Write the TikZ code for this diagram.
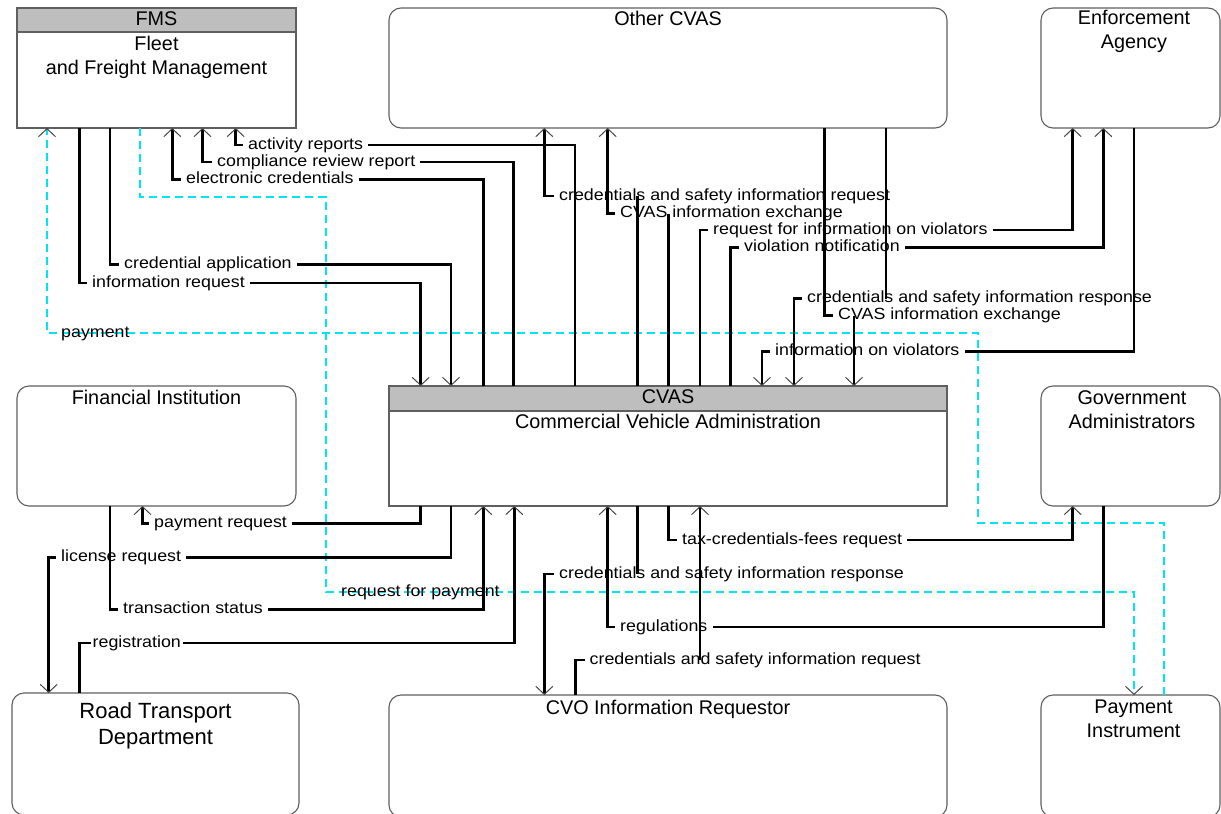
\documentclass[tikz,border=0pt]{standalone}
\usepackage{fontspec}
\setmainfont{Liberation Sans}
\newfontfamily\lblfam[FakeStretch=1.1]{Liberation Sans}
\usetikzlibrary{arrows.meta}
\definecolor{boxgray}{RGB}{95,95,95}
\definecolor{hdrgray}{RGB}{190,190,190}
\definecolor{tipgray}{RGB}{70,70,70}
\definecolor{paycyan}{RGB}{0,230,240}
\tikzset{
  rnd/.style={draw=boxgray, fill=white, line width=1.1pt, rounded corners=12pt, anchor=north west, inner sep=0pt, outer sep=0pt},
  sq/.style={draw=boxgray, fill=white, line width=1.3pt, anchor=north west, inner sep=0pt, outer sep=0pt},
  hdr/.style={draw=boxgray, fill=hdrgray, line width=1.3pt},
  ttl/.style={font=\fontsize{19.8}{24}\selectfont, inner sep=0pt, anchor=base},
  big/.style={font=\fontsize{22}{26}\selectfont, inner sep=0pt, anchor=base},
  lbl/.style={font=\lblfam\fontsize{16.2}{19}\selectfont, inner xsep=5pt, inner ysep=0pt, text height=8.4pt, text depth=0pt, anchor=west},
  flow/.style={line width=2.8pt, black},
  tip/.style={-{Straight Barb[length=8pt,width=17pt,line width=1pt,color=tipgray]}},
  pay/.style={color=paycyan, line width=1.6pt, dash pattern=on 8pt off 5pt}
}
\begin{document}
\begin{tikzpicture}[x=1pt,y=-1pt]
\useasboundingbox (0,0) rectangle (1221,814);
% boxes
\node[sq, minimum width=279pt, minimum height=120pt] (fms) at (17,8) {};
\draw[hdr] (fms.north west) rectangle ([yshift=-24pt]fms.north east);
\node[rnd, minimum width=558pt, minimum height=120pt] (ocvas) at (389,8) {};
\node[rnd, minimum width=179pt, minimum height=120pt] (enf) at (1041,8) {};
\node[rnd, minimum width=279pt, minimum height=120pt] (fin) at (17,386) {};
\node[sq, minimum width=558pt, minimum height=120pt] (cvas) at (389,386) {};
\draw[hdr] (cvas.north west) rectangle ([yshift=-25pt]cvas.north east);
\node[rnd, minimum width=179pt, minimum height=120pt] (gov) at (1041,386) {};
\node[rnd, minimum width=287pt, minimum height=122pt] (rtd) at (12,693) {};
\node[rnd, minimum width=558pt, minimum height=122pt] (cvo) at (389,695) {};
\node[rnd, minimum width=179pt, minimum height=122pt] (pin) at (1041,695) {};
% titles
\node[ttl] (t1) at (156.5,25) {FMS};
\node[ttl] (t2) at (156.5,50) {Fleet};
\node[ttl] (t3) at (156.5,74) {and Freight Management};
\node[ttl] (t4) at (668,25) {Other CVAS};
\node[ttl] (t5) at (1134,24) {Enforcement};
\node[ttl] (t6) at (1134,48) {Agency};
\node[ttl] (t7) at (156.5,404) {Financial Institution};
\node[ttl] (t8) at (668,403.5) {CVAS};
\node[ttl] (t9) at (668,428.3) {Commercial Vehicle Administration};
\node[ttl] (t10) at (1132,404) {Government};
\node[ttl] (t11) at (1132,428.3) {Administrators};
\node[big] (t12) at (155.5,718.3) {Road Transport};
\node[big] (t13) at (155.5,744.3) {Department};
\node[ttl] (t14) at (668,714) {CVO Information Requestor};
\node[ttl] (t15) at (1133.5,713.3) {Payment};
\node[ttl] (t16) at (1133.5,737.3) {Instrument};
% dashed payment flows
\coordinate (pa) at (978,523);
\coordinate (pb) at (47,333);
\draw[pay,tip] (pin.north -| 1164,0) |- (pa) |- (pb) -- (fms.south -| 47,0);
\coordinate (pc) at (326,196.7);
\coordinate (pd) at (1134,592);
\draw[pay,tip] (fms.south -| 140,0) |- (pc) |- (pd) -- (pin.north -| 1134,0);
\node[lbl, inner xsep=0pt] (lpay) at (61,333.5) {payment};
\node[lbl, inner xsep=0pt] (lrp) at (341,592) {request for payment};
% a
\node[lbl] (la) at (243,145) {activity reports};
\draw[flow,tip] (la.west) -| (fms.south -| 235.7,0);
\draw[flow] (cvas.north -| 575,0) |- (la.east);
% b
\node[lbl] (lb) at (212,162) {compliance review report};
\draw[flow,tip] (lb.west) -| (fms.south -| 202.5,0);
\draw[flow] (cvas.north -| 513.7,0) |- (lb.east);
% c
\node[lbl] (lc) at (181,179.5) {electronic credentials};
\draw[flow,tip] (lc.west) -| (fms.south -| 172.3,0);
\draw[flow] (cvas.north -| 483.3,0) |- (lc.east);
% d
\node[lbl] (ld) at (119,264.5) {credential application};
\draw[flow] (fms.south -| 110,0) |- (ld.west);
\draw[flow,tip] (ld.east) -| (cvas.north -| 451,0);
% e
\node[lbl] (le) at (87,283) {information request};
\draw[flow] (fms.south -| 79.3,0) |- (le.west);
\draw[flow,tip] (le.east) -| (cvas.north -| 420.7,0);
% f
\node[lbl] (lf) at (554,196) {credentials and safety information request};
\draw[flow,tip] (lf.west) -| (ocvas.south -| 544.3,0);
\draw[flow] (cvas.north -| 637.3,0) -- (lf.center -| 637.3,0);
% g
\node[lbl] (lg) at (615,213.5) {CVAS information exchange};
\draw[flow,tip] (lg.west) -| (ocvas.south -| 607.7,0);
\draw[flow] (cvas.north -| 668.3,0) -- (lg.center -| 668.3,0);
% h
\node[lbl] (lh) at (708,230) {request for information on violators};
\draw[flow] (cvas.north -| 700,0) |- (lh.west);
\draw[flow,tip] (lh.east) -| (enf.south -| 1072.7,0);
% i
\node[lbl] (li) at (739,247.5) {violation notification};
\draw[flow] (cvas.north -| 730.7,0) |- (li.west);
\draw[flow,tip] (li.east) -| (enf.south -| 1103.3,0);
% j
\node[lbl] (lj) at (802,298.5) {credentials and safety information response};
\draw[flow,tip] (lj.west) -| (cvas.north -| 794,0);
\draw[flow] (ocvas.south -| 886,0) -- (lj.center -| 886,0);
% k
\node[lbl] (lk) at (833,315.5) {CVAS information exchange};
\draw[flow] (ocvas.south -| 824.3,0) |- (lk.west);
\draw[flow,tip] (lk.center -| 854,0) -- (cvas.north -| 854,0);
% l
\node[lbl] (ll) at (770,351.5) {information on violators};
\draw[flow,tip] (ll.west) -| (cvas.north -| 762,0);
\draw[flow] (enf.south -| 1134,0) |- (ll.east);
% m
\node[lbl] (lm) at (149,523.5) {payment request};
\draw[flow,tip] (lm.west) -| (fin.south -| 142.5,0);
\draw[flow] (cvas.south -| 420.7,0) |- (lm.east);
% n
\node[lbl] (ln) at (56,557.5) {license request};
\draw[flow,tip] (ln.west) -| (rtd.north -| 48.7,0);
\draw[flow] (cvas.south -| 451,0) |- (ln.east);
% o
\node[lbl] (lo) at (118,609.5) {transaction status};
\draw[flow] (fin.south -| 110,0) |- (lo.west);
\draw[flow,tip] (lo.east) -| (cvas.south -| 483.3,0);
% p
\node[lbl, inner xsep=2pt] (lp) at (90.5,643) {registration};
\draw[flow] (rtd.north -| 79.3,0) |- (lp.west);
\draw[flow,tip] (lp.east) -| (cvas.south -| 514.3,0);
% r
\node[lbl] (lr) at (677,540) {tax-credentials-fees request};
\draw[flow] (cvas.south -| 668.3,0) |- (lr.west);
\draw[flow,tip] (lr.east) -| (gov.south -| 1072.7,0);
% s
\node[lbl] (ls) at (554,574) {credentials and safety information response};
\draw[flow,tip] (ls.west) -| (cvo.north -| 544.3,0);
\draw[flow] (cvas.south -| 637.3,0) -- (ls.center -| 637.3,0);
% t
\node[lbl] (lt) at (615,627) {regulations};
\draw[flow,tip] (lt.west) -| (cvas.south -| 607.7,0);
\draw[flow] (gov.south -| 1103.3,0) |- (lt.east);
% u
\node[lbl] (lu) at (584.5,660) {credentials and safety information request};
\draw[flow] (cvo.north -| 575.7,0) |- (lu.west);
\draw[flow,tip] (lu.center -| 700,0) -- (cvas.south -| 700,0);
\end{tikzpicture}
\end{document}
